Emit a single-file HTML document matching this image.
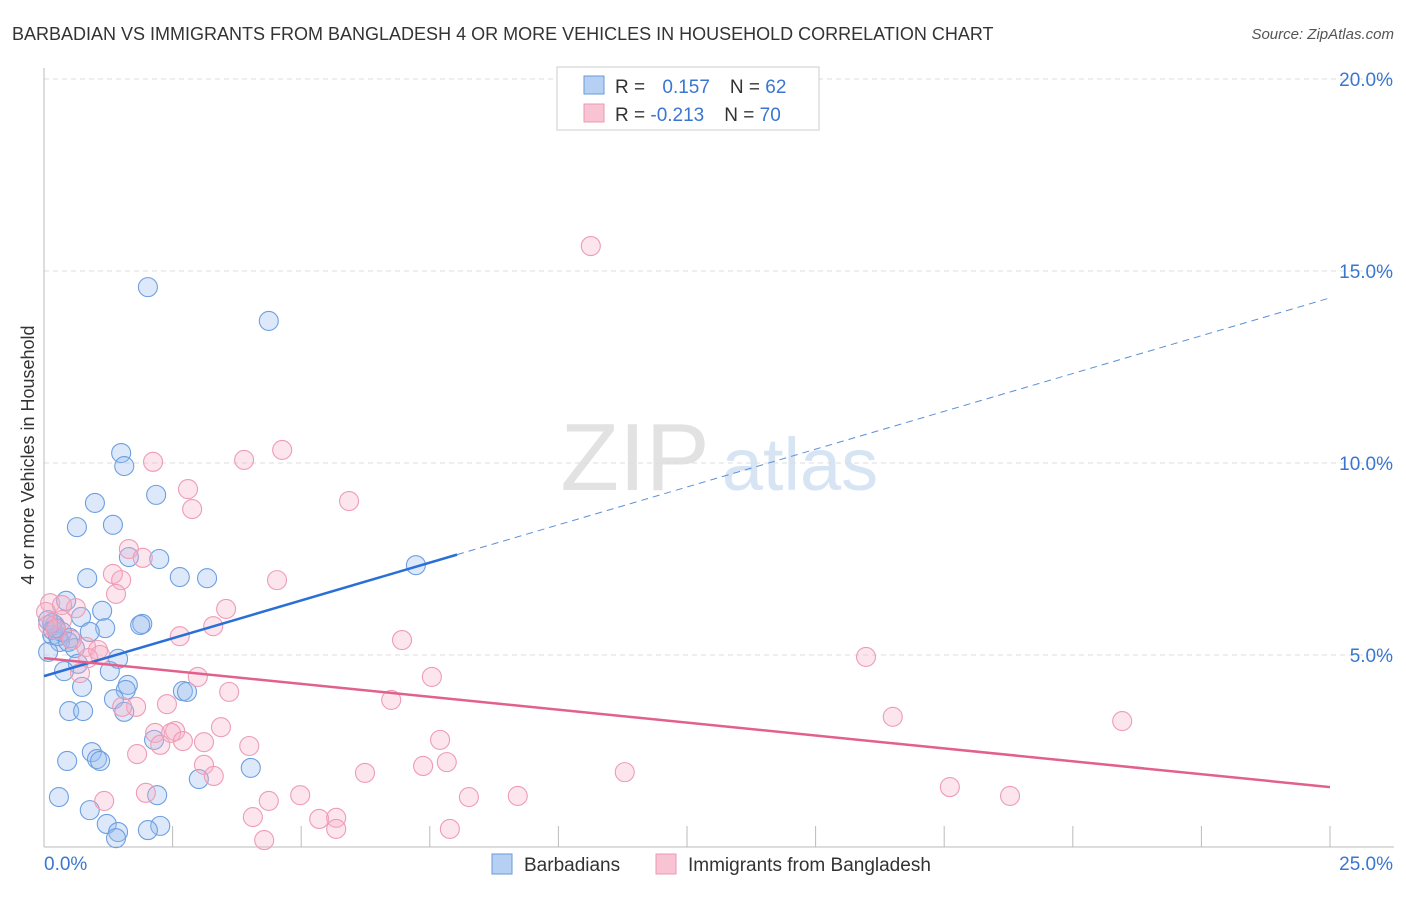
<!DOCTYPE html>
<html><head><meta charset="utf-8"><style>
body{margin:0;background:#fff;font-family:"Liberation Sans",sans-serif;}
svg text{font-family:"Liberation Sans",sans-serif;}
</style></head><body>
<svg id="chart" width="1406" height="892">
<text x="12" y="40" font-size="18" fill="#333">BARBADIAN VS IMMIGRANTS FROM BANGLADESH 4 OR MORE VEHICLES IN HOUSEHOLD CORRELATION CHART</text>
<text x="1394" y="39" font-size="15" fill="#555" font-style="italic" text-anchor="end">Source: ZipAtlas.com</text>
<g>
<text x="635" y="490" font-size="96" fill="#e2e2e2" text-anchor="middle" font-family="Liberation Serif, serif">ZIP</text>
<text x="800" y="490" font-size="74" fill="#d6e4f4" text-anchor="middle">atlas</text>
</g>
<g id="grid"></g>
<g id="axes"></g>
<g id="points"></g>
<g id="trends"></g>
<text x="34" y="455" font-size="18" fill="#333" text-anchor="middle" transform="rotate(-90 34 455)">4 or more Vehicles in Household</text>
<g>
<rect x="557" y="67" width="262" height="63" fill="#fff" stroke="#ccc"/>
<rect x="584" y="76" width="20" height="18" fill="#b5d0f3" stroke="#6a9ad8"/>
<rect x="584" y="104" width="20" height="18" fill="#f8c3d2" stroke="#ec9ab2"/>
<text x="615" y="93" font-size="19" fill="#333">R = <tspan fill="#3a76d0" dx="12">0.157</tspan><tspan dx="20" fill="#333">N = </tspan><tspan fill="#3a76d0">62</tspan></text>
<text x="615" y="121" font-size="19" fill="#333">R = <tspan fill="#3a76d0">-0.213</tspan><tspan dx="20" fill="#333">N = </tspan><tspan fill="#3a76d0">70</tspan></text>
</g>
<g>
<rect x="492" y="854" width="20" height="20" fill="#b5d0f3" stroke="#6a9ad8"/>
<text x="524" y="871" font-size="19" fill="#333">Barbadians</text>
<rect x="656" y="854" width="20" height="20" fill="#f8c3d2" stroke="#ec9ab2"/>
<text x="688" y="871" font-size="19" fill="#333">Immigrants from Bangladesh</text>
</g>
</svg>
<script>
const blueX=[2.02,4.37,1.50,1.56,2.18,0.99,0.64,1.34,2.24,1.65,0.84,2.64,3.17,7.23,0.43,1.13,0.72,0.21,1.19,1.91,1.87,0.89,0.16,0.51,0.31,0.60,0.08,1.44,0.66,1.28,0.39,1.63,1.59,0.74,2.70,2.78,1.36,1.56,0.49,0.76,2.14,0.93,1.03,1.09,0.45,4.02,3.01,0.29,2.20,0.89,1.22,1.44,2.26,2.02,1.40,0.17,0.08,0.27,0.35,0.16,0.23,0.47];
const blueY=[14.58,13.70,10.26,9.92,9.17,8.96,8.33,8.39,7.50,7.55,7.00,7.03,7.00,7.34,6.41,6.15,5.99,5.78,5.70,5.81,5.78,5.60,5.52,5.44,5.34,5.18,5.08,4.90,4.77,4.58,4.58,4.22,4.09,4.17,4.06,4.04,3.85,3.52,3.54,3.54,2.79,2.47,2.29,2.24,2.24,2.06,1.77,1.30,1.35,0.96,0.60,0.39,0.55,0.44,0.23,5.65,5.91,5.49,5.60,5.83,5.70,5.34];
const pinkX=[10.63,4.63,3.89,2.12,2.80,5.93,2.88,1.65,1.92,1.34,1.50,4.53,1.40,3.54,0.62,0.12,0.04,0.35,3.29,2.64,6.96,0.82,1.05,1.09,0.86,0.70,15.98,2.99,7.54,3.60,6.75,2.39,1.79,1.52,3.44,16.50,20.96,2.16,2.55,2.47,2.70,3.11,2.26,3.99,7.70,1.81,7.83,7.37,6.24,11.29,3.11,3.30,1.98,4.98,8.26,9.21,17.61,18.78,1.17,4.37,4.06,5.35,5.68,5.68,7.89,4.28,0.23,0.35,0.54,0.08];
const pinkY=[15.65,10.34,10.08,10.03,9.32,9.01,8.80,7.76,7.53,7.11,6.95,6.95,6.59,6.20,6.22,6.35,6.12,6.30,5.75,5.49,5.39,5.21,5.13,5.00,4.92,4.53,4.95,4.43,4.43,4.04,3.83,3.72,3.65,3.65,3.12,3.39,3.28,2.97,3.02,2.97,2.76,2.73,2.66,2.63,2.79,2.42,2.21,2.11,1.93,1.95,2.14,1.85,1.41,1.35,1.30,1.33,1.56,1.33,1.20,1.20,0.78,0.73,0.76,0.47,0.47,0.18,5.65,5.91,5.39,5.78];
const blueTrend=[4.45,14.30]; const blueSolidEnd=8.03;
const pinkTrend=[4.92,1.56];
const yTicks=[5,10,15,20];
const xTickLabels=["0.0%","25.0%"];
const NS="http://www.w3.org/2000/svg";
const X0=44,X1=1330,Y0=847,YPER=38.4;
const sx=v=>X0+(X1-X0)*v/25, sy=v=>Y0-v*YPER;
function mk(tag,attrs,parent){const e=document.createElementNS(NS,tag);for(const k in attrs)e.setAttribute(k,attrs[k]);document.getElementById(parent).appendChild(e);return e;}
yTicks.forEach(t=>{
 const g=mk('line',{x1:44,x2:1394,y1:sy(t),y2:sy(t),stroke:'#ddd','stroke-dasharray':'5,4'},'grid');
 
 
 const tx=mk('text',{x:1393,y:sy(t)+7,'font-size':19,fill:'#3a76d0','text-anchor':'end'},'grid');
 tx.textContent=t.toFixed(1)+'%';
 
 
});
const ax=mk('line',{x1:44,x2:44,y1:68,y2:847,stroke:'#bbb'},'axes');


const bx=mk('line',{x1:44,x2:1394,y1:847,y2:847,stroke:'#bbb'},'axes');


for(let i=1;i<=10;i++){const t=mk('line',{x1:sx(i*2.5),x2:sx(i*2.5),y1:826,y2:847,stroke:'#bbb'},'axes');
 
 }
[[0,'start',44],[25,'end',1393]].forEach((p,i)=>{const t=mk('text',{x:p[2],y:870,'font-size':19,fill:'#3a76d0','text-anchor':p[1]},'axes');t.textContent=xTickLabels[i];
 
 });
blueX.forEach((v,i)=>{const c=mk('circle',{cx:sx(v),cy:sy(blueY[i]),r:9.5,fill:'rgba(150,188,238,0.32)',stroke:'#6d9fe0','stroke-width':1.1},'points');
 
 });
pinkX.forEach((v,i)=>{const c=mk('circle',{cx:sx(v),cy:sy(pinkY[i]),r:9.5,fill:'rgba(245,175,198,0.32)',stroke:'#ee9cb5','stroke-width':1.1},'points');
 
 });
const by=v=>blueTrend[0]+(blueTrend[1]-blueTrend[0])*v/25;
let l=mk('line',{x1:sx(0),y1:sy(by(0)),x2:sx(blueSolidEnd),y2:sy(by(blueSolidEnd)),stroke:'#2a6fd6','stroke-width':2.5},'trends');


l=mk('line',{x1:sx(blueSolidEnd),y1:sy(by(blueSolidEnd)),x2:sx(25),y2:sy(by(25)),stroke:'#5b8fd8','stroke-width':1,'stroke-dasharray':'7,5'},'trends');


l=mk('line',{x1:sx(0),y1:sy(pinkTrend[0]),x2:sx(25),y2:sy(pinkTrend[1]),stroke:'#e2608c','stroke-width':2.5},'trends');


</script>
</body></html>
